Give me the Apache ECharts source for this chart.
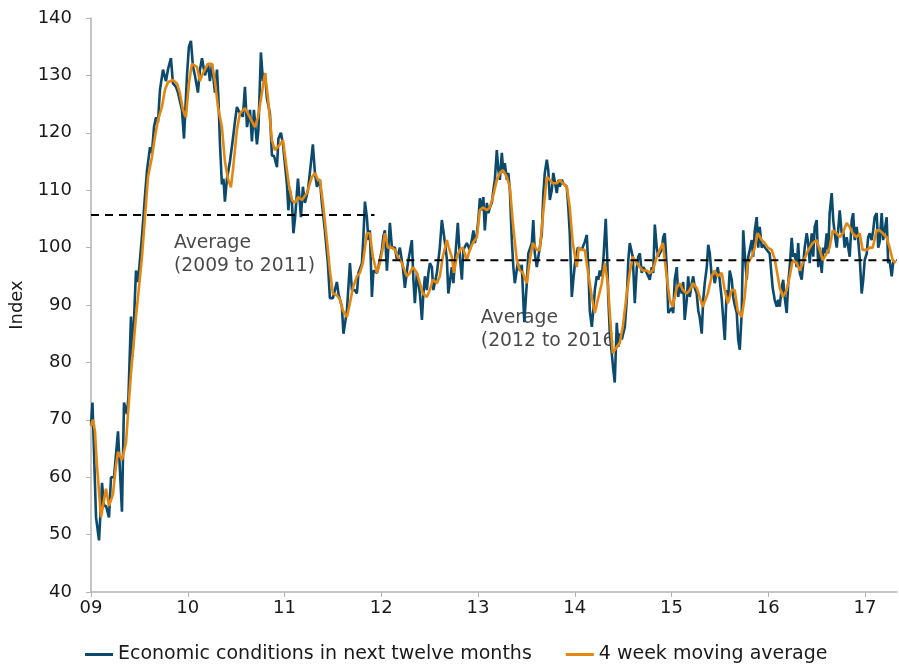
<!DOCTYPE html>
<html><head><meta charset="utf-8">
<script src="https://cdn.jsdelivr.net/npm/echarts@6/dist/echarts.min.js"></script>
<style>html,body{margin:0;padding:0;background:#fff}#c{width:899px;height:666px}</style>
</head><body><div id="c"></div>
<script>
// x values: years elapsed since the start of 2009
const econX = [0.000,0.015,0.052,0.083,0.114,0.134,0.155,0.186,0.207,0.238,0.279,0.320,0.341,0.372,0.387,0.413,0.429,0.465,0.486,0.527,0.558,0.579,0.610,0.630,0.651,0.672,0.692,0.713,0.744,0.775,0.795,0.826,0.847,0.878,0.899,0.940,0.961,0.992,
1.012,1.033,1.054,1.074,1.105,1.126,1.147,1.178,1.209,1.229,1.250,1.281,1.302,1.317,1.333,1.353,1.369,1.384,1.405,1.436,1.467,1.488,1.508,1.539,1.570,1.591,1.612,1.643,1.663,1.684,1.715,1.730,1.756,1.777,1.798,1.818,1.849,1.870,1.891,1.922,1.937,1.963,1.984,
2.025,2.040,2.056,2.077,2.092,2.108,2.139,2.170,2.190,2.211,2.242,2.262,2.293,2.314,2.335,2.366,2.386,2.417,2.448,2.469,2.500,2.541,2.557,2.593,2.609,2.624,2.645,2.660,2.676,2.697,2.727,2.748,2.764,2.800,2.815,2.831,2.851,2.867,2.882,2.903,2.919,2.955,2.970,
3.006,3.022,3.037,3.058,3.089,3.110,3.141,3.161,3.192,3.223,3.244,3.275,3.316,3.332,3.347,3.368,3.399,3.420,3.435,3.451,3.471,3.487,3.502,3.523,3.538,3.575,3.605,3.626,3.657,3.678,3.693,3.729,3.745,3.760,3.791,3.812,3.833,3.848,3.884,3.915,3.936,3.952,3.967,3.988,
4.003,4.019,4.039,4.055,4.070,4.091,4.107,4.122,4.143,4.158,4.174,4.194,4.210,4.225,4.246,4.262,4.277,4.298,4.313,4.329,4.349,4.365,4.380,4.411,4.432,4.452,4.478,4.504,4.520,4.556,4.571,4.587,4.607,4.638,4.659,4.675,4.690,4.711,4.726,4.742,4.762,4.778,4.793,4.814,4.830,4.845,4.866,4.881,4.917,4.933,4.948,4.969,4.985,
5.000,5.031,5.072,5.103,5.124,5.140,5.155,5.176,5.191,5.207,5.227,5.243,5.258,5.279,5.295,5.320,5.336,5.346,5.362,5.382,5.398,5.413,5.434,5.450,5.465,5.486,5.517,5.537,5.553,5.568,5.599,5.620,5.641,5.656,5.672,5.692,5.708,5.744,5.775,5.796,5.811,5.827,5.847,5.863,5.878,5.899,5.914,5.930,5.950,5.966,
6.002,6.017,6.033,6.054,6.069,6.085,6.105,6.121,6.136,6.157,6.172,6.188,6.209,6.224,6.240,6.260,6.276,6.291,6.312,6.327,6.343,6.364,6.379,6.395,6.415,6.431,6.446,6.477,6.498,6.519,6.550,6.570,6.586,6.601,6.622,6.637,6.653,6.674,6.689,6.705,6.725,6.741,6.756,6.777,6.793,6.808,6.829,6.844,6.860,6.880,6.896,6.911,6.932,6.947,6.983,
7.014,7.045,7.066,7.087,7.102,7.118,7.138,7.154,7.169,7.190,7.206,7.221,7.242,7.257,7.273,7.293,7.309,7.325,7.345,7.361,7.376,7.397,7.412,7.428,7.448,7.464,7.479,7.500,7.516,7.531,7.552,7.567,7.583,7.603,7.619,7.634,7.655,7.671,7.686,7.707,7.722,7.738,7.758,7.774,7.789,7.810,7.826,7.841,7.862,7.877,7.893,7.913,7.929,7.944,7.965,7.981,7.996,
8.017,8.032,8.048,8.068,8.084,8.099,8.120,8.136,8.151,8.172,8.187,8.203,8.223,8.239,8.254,8.275,8.290,8.306];
const econValues = [69,73,53,49,59,55,55,53,60,60,68,54,73,71,74,88,81,96,94,102,109,113.5,117.5,116.5,121,122.7,121.8,127.5,131,129,131,133,128.6,128,127,124,119,130,
135,136,131.5,130,127,131,133,130,132,129,132,127,131,126,118,111,112,108,112,115,119,122,124.5,123.4,122.8,128,121,124,118.5,124,118,120.5,134,129,130.4,126,123.4,116,116,114,119,120,118,
111,106.5,110,107.8,102.5,105,112,105.3,110.6,107.8,110,113,118,113,110.6,111.8,107.8,103,97.3,91.2,91.2,94,92,89.7,85,85,89,93,97.3,92.6,92.6,92,95.6,97.3,101.8,108,105.3,101.3,103,91.4,96,95.6,96.6,
99.6,102,103,96,104.3,100,100,98,100,96.6,93,97.3,101.3,94.4,90.3,95.6,92,87.4,92,95,92.6,95.6,97.3,96.6,92.6,95.6,100,104.8,101,98,92,96.6,93.8,97.3,104.3,98.4,94.4,99.6,100.8,99.6,101.3,103,100.8,102.5,
104.8,108.6,106.5,108.8,103,107.8,106,107,107.8,110,111.8,117,113.5,111.8,116.5,113,114.7,111.8,113,110,101.3,96.6,93.8,97.3,96,97,87,93.8,99,100.8,104.8,99,96.6,100,102.5,109.5,113,115.3,113.5,108.3,110,113,113,109.5,111.8,110.6,111.8,111.2,110.6,107,102.5,91.4,94.4,
97,100,99.6,101,102.2,96.6,89,86.2,89,92.6,95,94.4,96,95,97.8,105,97.8,91.4,85,81.6,78.7,76.5,86.9,82.7,85,84,86.2,90.9,97.8,100.8,98.4,90.3,96.6,98.4,99,95.6,96.6,95.6,94.4,96.6,95.6,104,100,98.4,99,99.6,101.8,102.5,96.6,88.6,
89.5,88.6,94.4,96.6,91.4,93.8,92,94,87.4,90.9,95,91.4,93.8,95,93,92,89,87.9,85,90.9,93.8,96.6,100.5,99,95,95.6,93.8,96.6,94.4,91,83.9,92.6,91.4,96,94.4,91.4,90,88.6,83.9,82.2,88.6,103,99,94.4,98.4,99.6,101.3,98.4,103,105.3,100,103.6,100,100.5,99.6,
99,93,90.9,89.7,90.9,89.7,93,94.4,91.4,88.6,93.8,96.6,101.7,98.4,99,96.6,100.8,95.6,94.4,97.3,100,102.5,100.8,97.3,102.5,98.4,103.6,104.8,96.6,100,95.6,100,99,102.5,99,106,109.5,104.8,102.5,100,103,106.5,102.5,103,100,101.8,100,98.4,104.8,106,101.3,103.6,101.3,98.4,92,94.4,97.8,
99,101.8,102.5,101.3,103,105.3,106,100,101,106,101.3,103,105.3,97.3,97.8,95,97.3,97.8];

const maX = [0.000,0.021,0.041,0.062,0.103,0.134,0.155,0.186,0.227,0.258,0.279,0.320,0.362,0.382,0.413,0.434,0.465,0.486,0.527,0.558,0.589,0.630,0.661,0.692,0.733,0.764,0.795,0.847,0.888,0.919,0.950,0.981,
1.012,1.043,1.095,1.126,1.157,1.209,1.250,1.281,1.312,1.353,1.384,1.415,1.446,1.467,1.508,1.539,1.591,1.643,1.694,1.725,1.767,1.798,1.829,1.870,1.901,1.953,1.984,
2.025,2.045,2.077,2.108,2.139,2.180,2.231,2.283,2.314,2.345,2.366,2.397,2.438,2.469,2.500,2.541,2.572,2.603,2.645,2.676,2.707,2.748,2.779,2.810,2.851,2.882,2.913,2.955,2.986,
3.017,3.037,3.068,3.110,3.141,3.172,3.213,3.265,3.296,3.327,3.368,3.399,3.430,3.471,3.502,3.533,3.575,3.605,3.636,3.678,3.698,3.729,3.750,3.781,3.812,3.843,3.884,3.915,3.946,3.988,
4.019,4.050,4.091,4.122,4.153,4.194,4.225,4.256,4.298,4.329,4.360,4.401,4.432,4.463,4.504,4.535,4.566,4.607,4.638,4.669,4.711,4.742,4.773,4.814,4.845,4.876,4.917,4.948,4.979,
5.021,5.041,5.072,5.103,5.134,5.176,5.207,5.238,5.279,5.310,5.341,5.372,5.393,5.434,5.465,5.496,5.537,5.568,5.599,5.641,5.672,5.703,5.744,5.775,5.806,5.847,5.878,5.909,5.950,5.981,
6.012,6.054,6.085,6.116,6.157,6.188,6.219,6.260,6.291,6.322,6.374,6.415,6.446,6.477,6.519,6.550,6.581,6.622,6.653,6.684,6.725,6.756,6.787,6.829,6.860,6.891,6.932,6.963,6.994,
7.035,7.066,7.087,7.118,7.149,7.190,7.221,7.252,7.293,7.325,7.356,7.397,7.428,7.459,7.500,7.531,7.562,7.603,7.634,7.665,7.707,7.738,7.769,7.810,7.841,7.872,7.913,7.944,7.975,
8.017,8.048,8.079,8.120,8.151,8.182,8.223,8.254,8.285,8.316];
const maValues = [69,70,68,62,53,56,58,55,57,62,64.4,63,66,71,78,82,88,91.4,98.4,105.3,112.3,115.8,119.3,122.2,124.5,127.5,128.8,129.2,128.6,126.9,124,122.7,
128.6,132,131.5,129,130.4,132,132,129,124.5,121,115,112,110.5,113.5,120.5,123.4,124.3,122.7,121,122.7,127,130.4,126,118.7,117,118,118.7,
113.5,111,108.3,107.8,108.8,108.3,109.5,112.3,113,111.8,111.8,107.8,101.3,96,92,91.7,91,89,87.9,90.3,93,95,95.6,97.3,102.5,102.5,98.4,95.6,97.3,
100,102.5,100,100,99.6,98.4,97.3,95,95.6,96.6,95.6,93.8,92,91.4,92.6,94.4,93.8,95,98.4,101.3,100,98.4,95.6,98.4,99.6,100,97.8,99.6,100.8,101.8,
106.5,107,106.5,107,108.8,111.8,113,113.5,112.3,110.5,104.3,97.8,96,95.6,93.8,97.8,100.8,99.6,99.6,105.3,112.3,111.8,111.2,111.2,111.8,111.2,110.6,107,100.8,
96.6,100,99.6,99.6,96,91.4,88.6,90.9,93.8,97.3,93.8,86.2,81.6,82.7,83.4,86.2,92,95.6,98.4,97.3,96.6,96,96,95.6,96,98.4,99.6,100.8,95,90.9,
89.7,93,93.8,92.6,92,92.6,93.8,93,91.4,89.7,92,95,96,95,95.6,92.6,90.3,92.6,92.6,89,87.9,91.4,97.3,98.4,100,102.5,101.3,100.8,100,
99.6,98,96,93,91.4,92.6,95,97.8,97.3,96,97.3,99,100,100.8,101.3,99.6,97.8,99,100,103,102.5,101.8,102.5,104.3,103.6,102.5,101.8,102.5,99.6,
99.6,100,100,103,103,102.5,101.8,100,97.8,97.3];

const avgPeriods = [
  {from: 0.00, to: 2.93, value: 105.7, label: 'Average\n(2009 to 2011)', labelX: 0.857, labelY: 98.8},
  {from: 2.97, to: 8.33, value: 97.8, label: 'Average\n(2012 to 2016)', labelX: 4.029, labelY: 85.7}
];
const yTicks = {min: 40, max: 140, step: 10};
const seriesNames = ['Economic conditions in next twelve months', '4 week moving average'];

const FONT = 'DejaVu Sans';
const TXT = '#1a1a1a';
const chart = echarts.init(document.getElementById('c'), null, {renderer: 'canvas'});
const zip = (xs, ys) => xs.map((x, i) => [x, ys[i]]);

const series = [
  {name: seriesNames[0], type: 'line', data: zip(econX, econValues), showSymbol: false, symbol: 'none',
   lineStyle: {color: '#0B4A6D', width: 2.6}, itemStyle: {color: '#0B4A6D'}, z: 3, animation: false},
  {name: seriesNames[1], type: 'line', data: zip(maX, maValues), showSymbol: false, symbol: 'none',
   lineStyle: {color: '#E5870F', width: 2.6}, itemStyle: {color: '#E5870F'}, z: 4, animation: false}
];
avgPeriods.forEach((p, i) => {
  series.push({name: 'avg' + i, type: 'line', data: [[p.from, p.value], [p.to, p.value]], symbol: 'none',
    lineStyle: {color: '#000', width: 2, type: [8, 6]}, z: 5, silent: true, animation: false});
  series.push({name: 'lbl' + i, type: 'scatter', data: [[p.labelX, p.labelY]], symbolSize: 0, silent: true, z: 2,
    label: {show: true, position: 'right', distance: 0, formatter: p.label, fontFamily: FONT, fontSize: 18.8,
      color: TXT, lineHeight: 23, align: 'left'}, animation: false});
});

chart.setOption({
  animation: false,
  grid: {left: 91, right: 2, top: 18, bottom: 74, containLabel: false},
  legend: {data: seriesNames, top: 640, left: 80, icon: 'rect', itemWidth: 28, itemHeight: 3, itemGap: 34,
    textStyle: {fontFamily: FONT, fontSize: 19, color: TXT}},
  xAxis: {type: 'value', min: 0, max: 8.33, interval: 1,
    axisLine: {lineStyle: {color: '#B3B3B3', width: 1.5}},
    axisTick: {show: true, length: 5, lineStyle: {color: '#B3B3B3'}},
    splitLine: {show: false},
    axisLabel: {showMaxLabel: false, fontFamily: FONT, fontSize: 18, color: TXT, margin: 7,
      formatter: v => String(9 + Math.round(v)).padStart(2, '0')}},
  yAxis: {type: 'value', min: yTicks.min, max: yTicks.max, interval: yTicks.step,
    name: 'Index', nameLocation: 'middle', nameGap: 62, nameRotate: 90,
    nameTextStyle: {fontFamily: FONT, fontSize: 18, color: TXT},
    axisLine: {show: true, lineStyle: {color: '#B3B3B3', width: 1.5}},
    axisTick: {show: true, length: 5, lineStyle: {color: '#B3B3B3'}},
    splitLine: {show: false},
    axisLabel: {fontFamily: FONT, fontSize: 18, color: TXT, margin: 19}},
  series: series
});
</script></body></html>
